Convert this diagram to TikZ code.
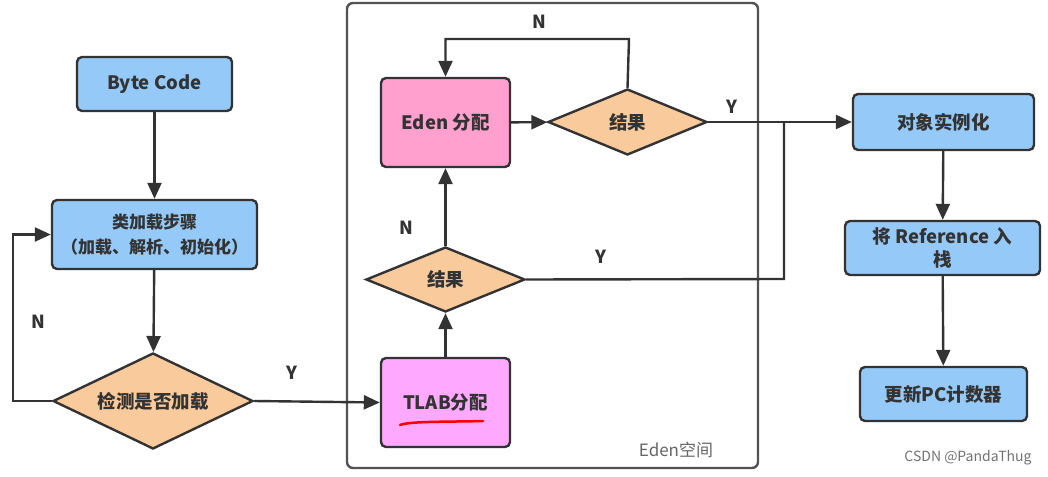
\documentclass[tikz,border=0pt]{standalone}
\usepackage{fontspec}
\setmainfont{Noto Sans CJK SC}
\usetikzlibrary{shapes.geometric,arrows.meta}
\definecolor{bluef}{HTML}{94C9F8}
\definecolor{orangef}{HTML}{F9CB9C}
\definecolor{pinkf}{HTML}{FFA0CE}
\definecolor{violetf}{HTML}{FFA8FF}
\definecolor{edge}{HTML}{333333}
\definecolor{txt}{HTML}{333333}
\tikzset{
  box/.style={draw=edge, line width=2.4pt, rounded corners=5pt, inner sep=0pt, align=center, text=txt, font=\bfseries\fontsize{18.5}{23}\selectfont},
  dia/.style={draw=edge, line width=2.4pt, diamond, shape aspect=2.2, inner sep=0pt, text=txt, font=\bfseries\fontsize{18.5}{23}\selectfont, fill=orangef},
  conn/.style={draw=edge, line width=2.4pt},
  arr/.style={conn, -{Triangle[length=16pt,width=14pt]}},
  lab/.style={text=txt, font=\bfseries\fontsize{18}{20}\selectfont},
}
\begin{document}
\begin{tikzpicture}[x=1pt,y=-1pt]
\useasboundingbox (0,0) rectangle (1048,476);
\fill[white] (0,0) rectangle (1048,476);
% container
\node[draw=edge!85, line width=2.4pt, rounded corners=6pt, minimum width=411pt, minimum height=465pt, inner sep=0pt] (cont) at (552.5,235.5) {};
\node[text=black!60, font=\fontsize{17}{18}\selectfont] (edensp) at (676,450) {Eden空间};
% nodes
\node[box, fill=bluef, minimum width=155pt, minimum height=54pt] (bc) at (154.5,84) {Byte Code};
\node[box, fill=bluef, minimum width=205pt, minimum height=69pt, font=\bfseries\fontsize{17}{25}\selectfont] (cl) at (154.5,234.5) {类加载步骤\\（加载、解析、初始化）};
\node[dia, minimum width=200pt, minimum height=96pt] (chk) at (153,401) {检测是否加载};
\node[box, fill=violetf, minimum width=129pt, minimum height=89pt] (tlab) at (445.5,402.5) {TLAB分配};
\node[dia, minimum width=159pt, minimum height=65pt] (r1) at (445.5,279.5) {结果};
\node[box, fill=pinkf, minimum width=129pt, minimum height=89pt] (eden) at (445.5,122.5) {Eden 分配};
\node[dia, minimum width=159pt, minimum height=66pt] (r2) at (627.5,122) {结果};
\node[box, fill=bluef, minimum width=181pt, minimum height=56pt] (obj) at (943.5,122) {对象实例化};
\node[box, fill=bluef, minimum width=195pt, minimum height=54pt, font=\bfseries\fontsize{18.5}{23}\selectfont] (ref) at (942.5,248) {将 Reference 入\\栈};
\node[box, fill=bluef, minimum width=167pt, minimum height=54pt] (pc) at (943.5,394) {更新PC计数器};
% red underline
\draw[red, line width=2.5pt, line cap=round] (400,425) .. controls (410,421) and (450,422) .. (483,421);
% coordinates
\coordinate (nl) at (13,401);
\coordinate (nt) at (629,39);
\coordinate (yj) at (784,279);
\coordinate (yt) at (784,122);
% connectors
\draw[arr] (bc) -- (cl);
\draw[arr] (cl) -- (chk);
\draw[arr] (chk.west) -- (nl) |- (cl.west);
\draw[arr] (chk.east) -- (tlab.west);
\draw[arr] (tlab) -- (r1);
\draw[arr] (r1) -- (eden);
\draw[arr] (eden) -- (r2);
\draw[arr] (r2.north) -- (nt) -| (eden.north);
\draw[arr] (r2.east) -- (obj.west);
\draw[conn] (r1.east) -- (yj) -- (yt);
\draw[arr] (obj) -- (ref);
\draw[arr] (ref) -- (pc);
% labels
\node[lab] (ln1) at (38,322) {N};
\node[lab] (ly1) at (292,373) {Y};
\node[lab] (ln2) at (539,22) {N};
\node[lab] (ly2) at (732,107) {Y};
\node[lab] (ln3) at (406,228) {N};
\node[lab] (ly3) at (601,257) {Y};
\node[text=black!55, font=\fontsize{14}{16}\selectfont] (wm) at (968,458) {CSDN @PandaThug};
\end{tikzpicture}
\end{document}
